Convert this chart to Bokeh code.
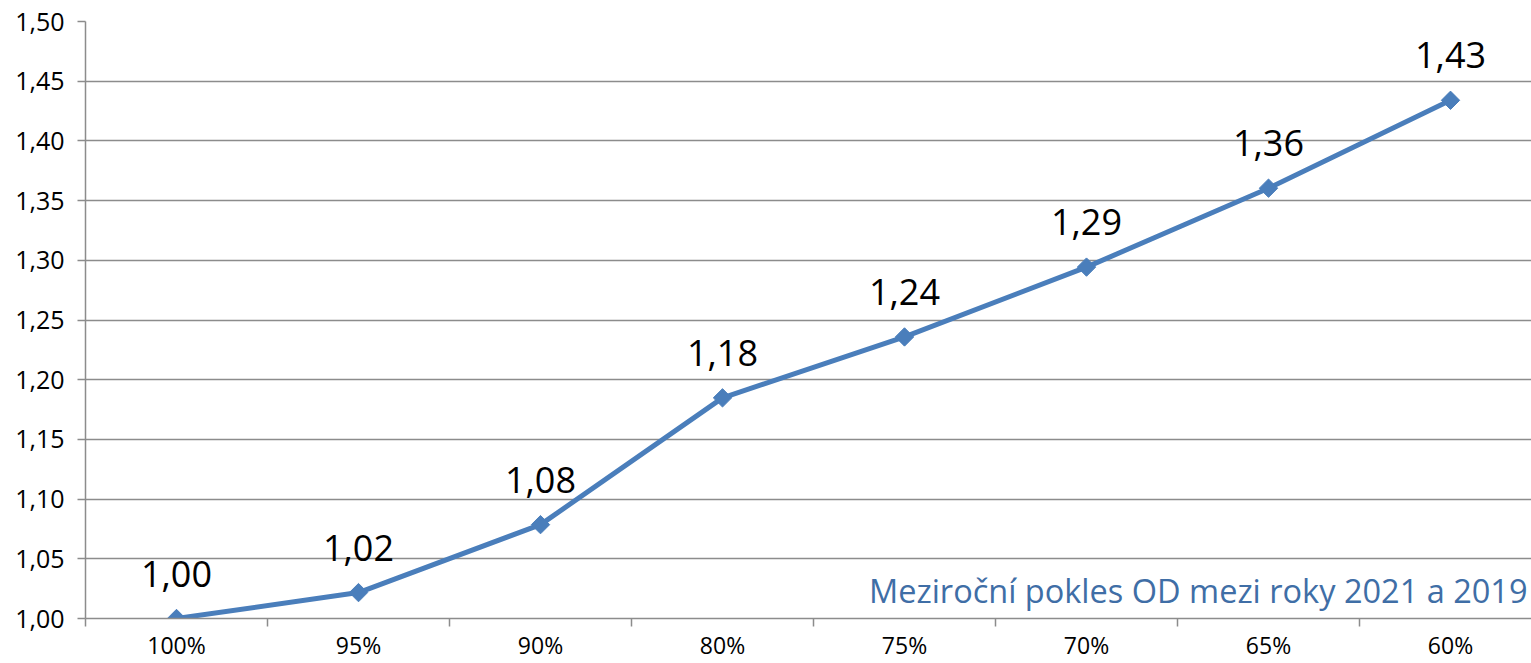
import math
from bokeh.plotting import figure
from bokeh.models import Range1d, FixedTicker, CustomJSTickFormatter, Label, ColumnDataSource
from bokeh.core.properties import value
from bokeh.embed import file_html
from bokeh.resources import INLINE

categories = ["100%", "95%", "90%", "80%", "75%", "70%", "65%", "60%"]
values = [1.000, 1.0217, 1.0786, 1.1848, 1.2358, 1.2943, 1.3604, 1.434]
y_ticks = [1.00, 1.05, 1.10, 1.15, 1.20, 1.25, 1.30, 1.35, 1.40, 1.45, 1.50]
note = "Meziroční pokles OD mezi roky 2021 a 2019"

FONT = "Open Sans"
BLUE = "#4A7EBB"
GRID = "#8C8C8C"

xs = list(range(len(categories)))
labels = [f"{v:.2f}".replace(".", ",") for v in values]
src = ColumnDataSource(dict(x=xs, y=values, lab=labels))

p = figure(width=1531, height=663, output_backend="svg", toolbar_location=None,
           x_range=Range1d(-0.5, 7.445), y_range=Range1d(1.0, 1.5),
           min_border_left=85, min_border_right=0, min_border_top=21, min_border_bottom=44)
p.outline_line_color = None
p.background_fill_color = "white"
p.border_fill_color = "white"

# x axis
xa = p.xaxis[0]
xa.ticker = FixedTicker(ticks=xs, minor_ticks=[i - 0.5 for i in range(len(categories) + 1)])
xa.major_label_overrides = {i: c for i, c in enumerate(categories)}
xa.major_tick_out = 0
xa.major_tick_in = 0
xa.minor_tick_out = 8
xa.minor_tick_in = 0
xa.minor_tick_line_color = GRID
xa.minor_tick_line_width = 1.5
xa.axis_line_color = GRID
xa.axis_line_width = 1.5
xa.major_label_text_font = FONT
xa.major_label_text_font_size = "23px"
xa.major_label_text_color = "black"
xa.major_label_standoff = 2
p.xgrid.grid_line_color = None

# y axis
ya = p.yaxis[0]
ya.ticker = FixedTicker(ticks=y_ticks, minor_ticks=[])
ya.formatter = CustomJSTickFormatter(code="return tick.toFixed(2).replace('.', ',');")
ya.major_tick_out = 8
ya.major_tick_in = 0
ya.major_tick_line_color = GRID
ya.major_tick_line_width = 1.5
ya.axis_line_color = GRID
ya.axis_line_width = 1.5
ya.major_label_text_font = FONT
ya.major_label_text_font_size = "25px"
ya.major_label_text_color = "black"
ya.major_label_standoff = 13
p.ygrid.grid_line_color = GRID
p.ygrid.grid_line_width = 1.5

p.line("x", "y", source=src, line_color=BLUE, line_width=5)
p.scatter("x", "y", source=src, marker="square", size=13, angle=math.pi / 4,
          fill_color=BLUE, line_color=BLUE)
p.text("x", "y", text="lab", source=src, y_offset=-45, text_align="center",
       text_baseline="alphabetic", text_font=value(FONT), text_font_size="36px",
       text_color="black")

p.add_layout(Label(x=7.423, y=1.0234, text=note, text_align="right",
                   text_baseline="alphabetic", text_font=FONT,
                   text_font_size="32.5px", text_color="#3F6EA6"))

open("out.html", "w").write(file_html(p, INLINE))
